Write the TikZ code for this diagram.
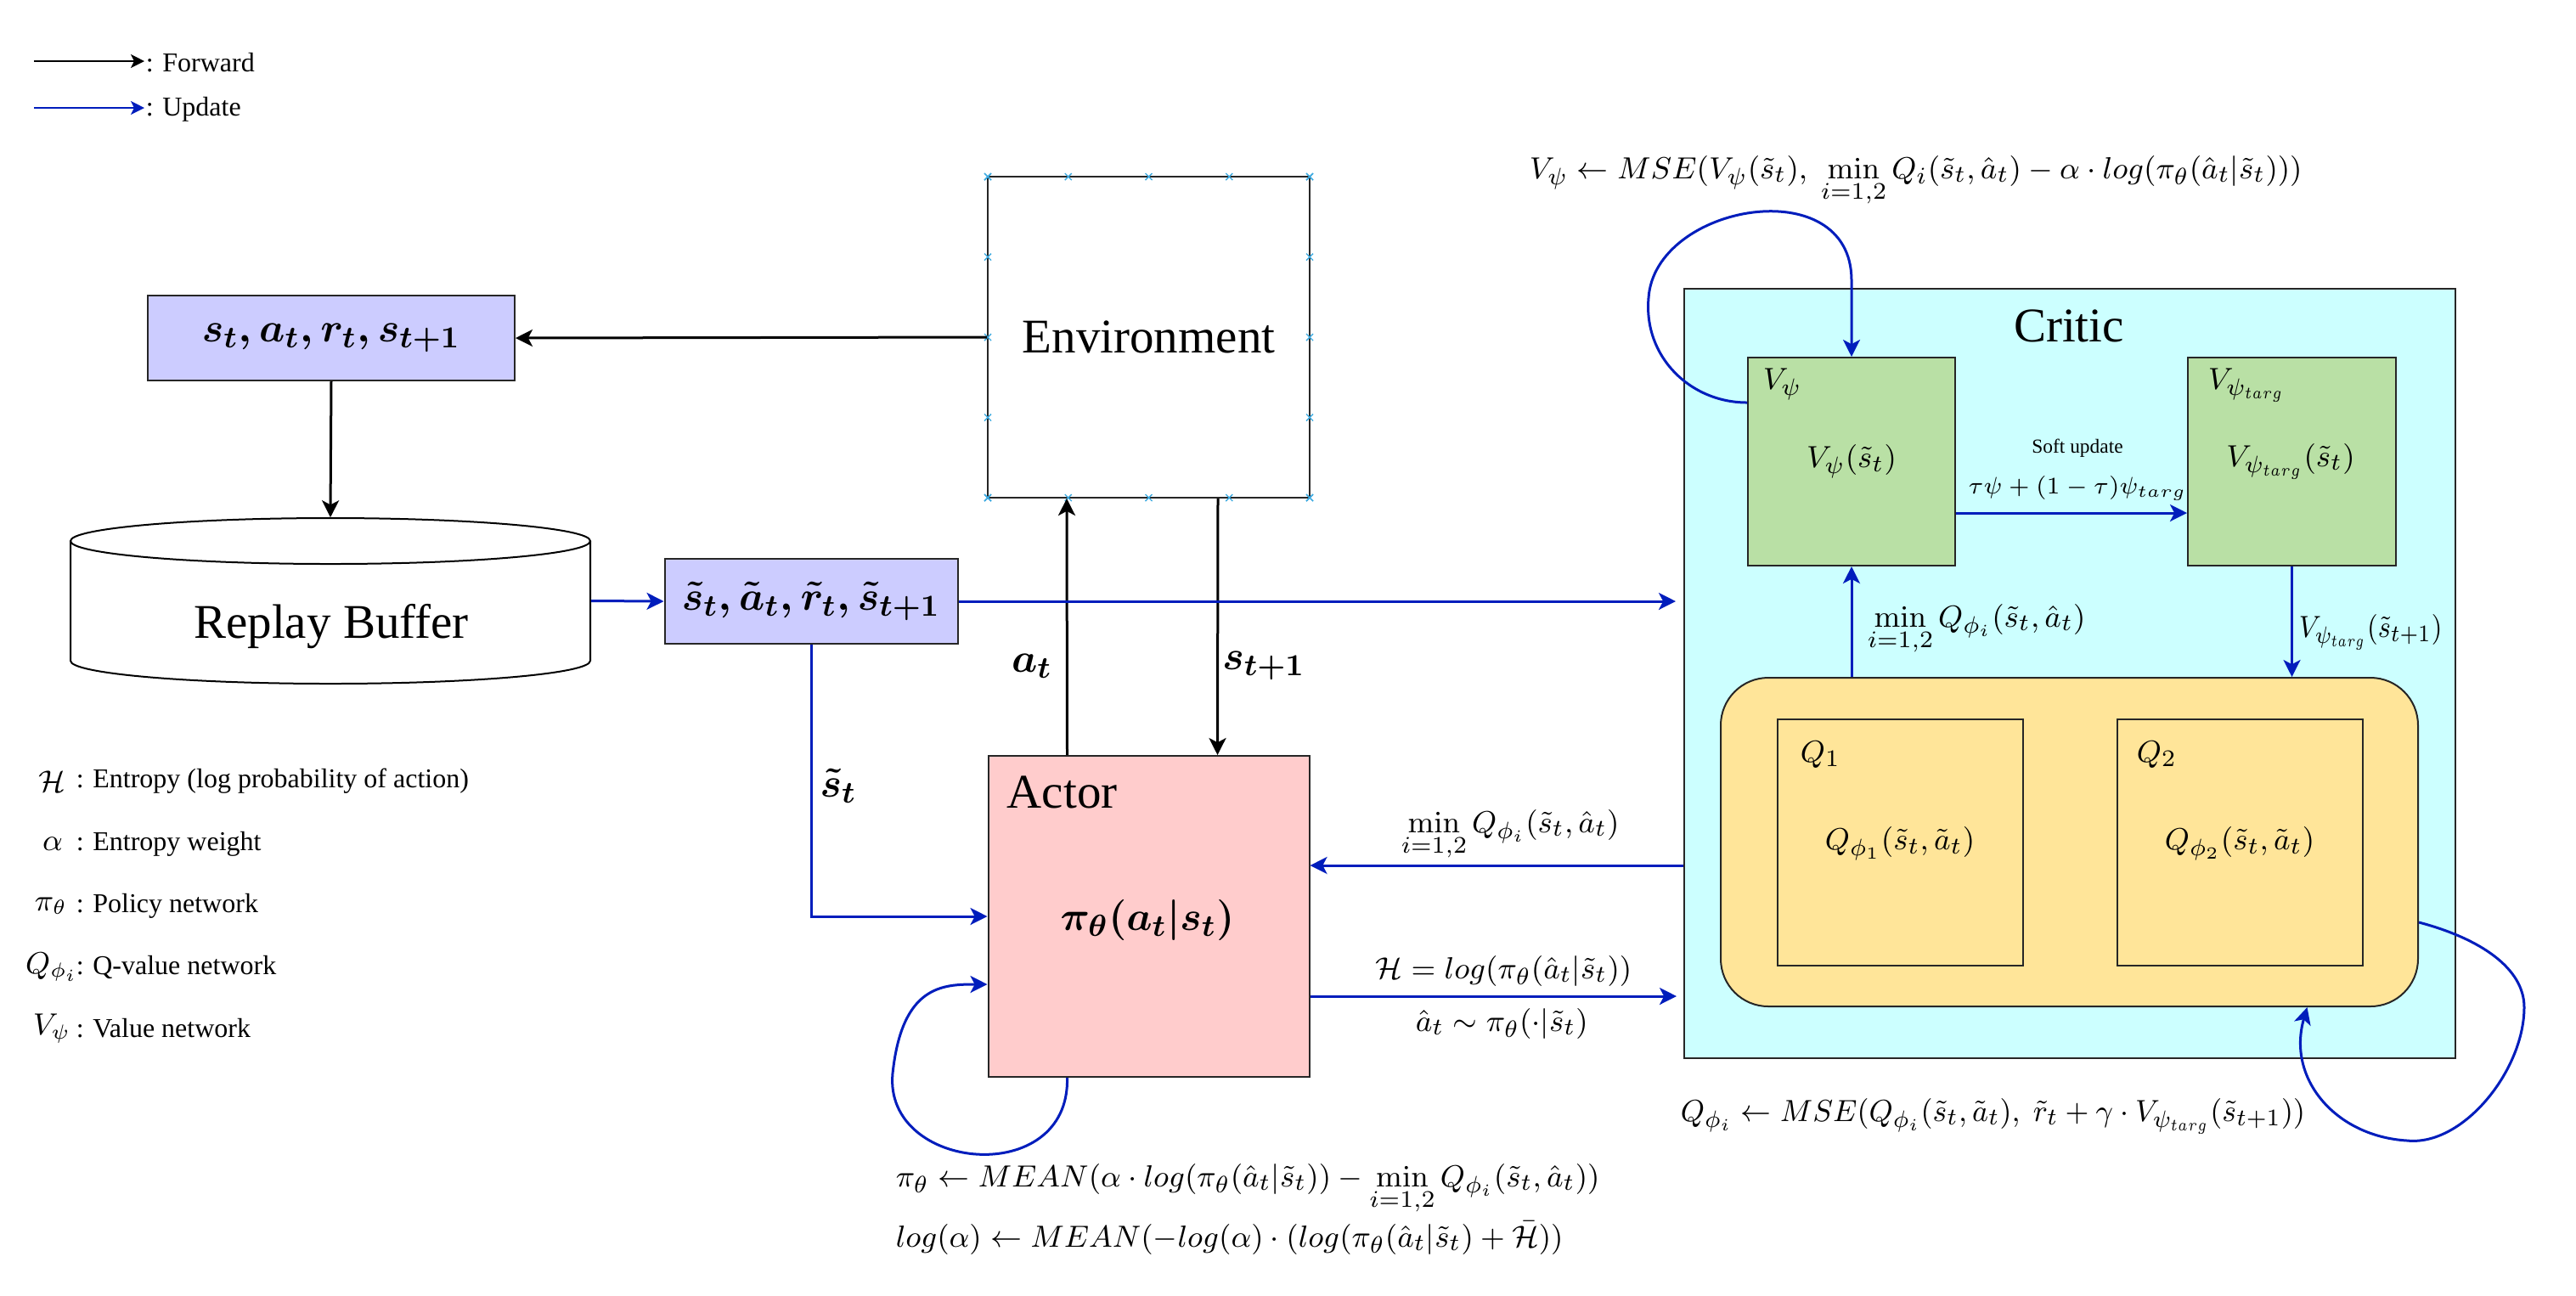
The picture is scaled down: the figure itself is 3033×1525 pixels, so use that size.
\documentclass[tikz,border=0pt]{standalone}
\usepackage[no-math]{fontspec}
\setmainfont{Liberation Serif}
\usepackage{amsmath}
\usepackage{graphicx}
\usetikzlibrary{arrows.meta,calc}
\definecolor{updblue}{RGB}{0,29,188}
\definecolor{lavf}{RGB}{204,204,255}
\definecolor{pinkf}{RGB}{255,204,204}
\definecolor{cyanf}{RGB}{204,255,255}
\definecolor{greenf}{RGB}{185,224,165}
\definecolor{yellowf}{RGB}{255,229,153}
\definecolor{markblue}{RGB}{60,170,225}
\newcommand\szBig{\fontsize{14.25}{17}\selectfont}
\newcommand\szMath{\fontsize{9.5}{11.5}\selectfont}
\newcommand\szLeg{\fontsize{8}{10}\selectfont}
\newcommand\szLegM{\fontsize{9}{11}\selectfont}
\newcommand\szBox{\fontsize{12.5}{15}\selectfont}
\newcommand\szSmall{\fontsize{5.85}{7}\selectfont}
\newcommand\szSoft{\fontsize{7}{8.5}\selectfont}
\newcommand\tg{\scalebox{0.8}[1]{$\scriptscriptstyle targ$}}
\begin{document}
\begin{tikzpicture}[x=0.25pt,y=-0.25pt,
  boxst/.style={draw=black!85, line width=0.5pt, inner sep=0pt},
  fwd/.style={-{Stealth[length=5pt,width=5pt,inset=1.3pt]}, line width=0.75pt, draw=black},
  upd/.style={fwd, draw=updblue, fill=none},
  legfwd/.style={-{Stealth[length=4pt,width=4pt,inset=1pt]}, line width=0.5pt},
  lbl/.style={inner sep=0pt}
]
\useasboundingbox (0,0) rectangle (3033,1525);
\fill[white] (0,0) rectangle (3033,1525);

% legend
\coordinate (lf1) at (40,72);
\coordinate (lf2) at (170,72);
\coordinate (lu1) at (40,127);
\coordinate (lu2) at (170,127);
\draw[legfwd, draw=black] (lf1) -- (lf2);
\draw[legfwd, draw=updblue] (lu1) -- (lu2);
\node[lbl, anchor=west] (legF) at (171,74) {\szLeg : Forward};
\node[lbl, anchor=west] (legU) at (171,129) {\szLeg : Update};

% left symbol list
\node[lbl] (symH) at (61,920) {\szLegM$\mathcal{H}$};
\node[lbl, anchor=west] (txtH) at (89,920) {\szLeg : Entropy (log probability of action)};
\node[lbl] (symA) at (62,994) {\szLegM$\alpha$};
\node[lbl, anchor=west] (txtA) at (89,994) {\szLeg : Entropy weight};
\node[lbl] (symP) at (60,1067) {\szLegM$\pi_\theta$};
\node[lbl, anchor=west] (txtP) at (89,1067) {\szLeg : Policy network};
\node[lbl] (symQ) at (61,1139) {\szLegM$Q_{\phi_i}$};
\node[lbl, anchor=west] (txtQ) at (89,1139) {\szLeg : Q-value network};
\node[lbl] (symV) at (61,1211) {\szLegM$V_\psi$};
\node[lbl, anchor=west] (txtV) at (89,1211) {\szLeg : Value network};

% critic container
\node[boxst, fill=cyanf, minimum width=227pt, minimum height=226.5pt] (critic) at (2437,793) {};
\node[lbl] (critict) at (2436,384) {\szBig Critic};
\node[boxst, fill=greenf, minimum width=61pt, minimum height=61.25pt] (vpsi) at (2180,543.5) {};
\node[boxst, fill=greenf, minimum width=61.25pt, minimum height=61.25pt] (vtarg) at (2698.5,543.5) {};
\node[boxst, fill=yellowf, rounded corners=14pt, minimum width=205.25pt, minimum height=96.75pt] (qgroup) at (2436.5,991.5) {};
\node[boxst, fill=yellowf, minimum width=72.25pt, minimum height=72.5pt] (q1) at (2237.5,992) {};
\node[boxst, fill=yellowf, minimum width=72.25pt, minimum height=72.5pt] (q2) at (2637.5,992) {};

\node[lbl, anchor=base west] (vpsil) at (2075,458) {\szMath$V_\psi$};
\node[lbl, anchor=base west] (vtargl) at (2599,458) {\szMath$V_{\psi_{\tg}}$};
\node[lbl] (vpsic) at (2180,543) {\szMath$V_\psi(\tilde{s}_t)$};
\node[lbl] (vtargc) at (2697,543) {\szMath$V_{\psi_{\tg}}(\tilde{s}_t)$};
\node[lbl, anchor=base west] (q1l) at (2119,897) {\szMath$Q_1$};
\node[lbl, anchor=base west] (q2l) at (2515,897) {\szMath$Q_2$};
\node[lbl] (q1c) at (2237,993) {\szMath$Q_{\phi_1}(\tilde{s}_t,\tilde{a}_t)$};
\node[lbl] (q2c) at (2637,993) {\szMath$Q_{\phi_2}(\tilde{s}_t,\tilde{a}_t)$};

% environment
\node[boxst, fill=white, minimum width=94.75pt, minimum height=94.5pt] (env) at (1352.5,397) {\szBig Environment};
\foreach \i in {0,1,2,3,4}{
  \pgfmathsetmacro{\xx}{1163+\i*94.75}
  \pgfmathsetmacro{\yy}{208+\i*94.5}
  \draw[markblue, line width=0.35pt] (\xx-4,204) -- (\xx+4,212) (\xx-4,212) -- (\xx+4,204);
  \draw[markblue, line width=0.35pt] (\xx-4,582) -- (\xx+4,590) (\xx-4,590) -- (\xx+4,582);
  \draw[markblue, line width=0.35pt] (1159,\yy-4) -- (1167,\yy+4) (1159,\yy+4) -- (1167,\yy-4);
  \draw[markblue, line width=0.35pt] (1538,\yy-4) -- (1546,\yy+4) (1538,\yy+4) -- (1546,\yy-4);
}

% sample boxes
\node[boxst, fill=lavf, minimum width=108pt, minimum height=25pt] (sbox) at (390,398) {\szBox{\boldmath$s_t, a_t, r_t, s_{t+1}$}};
\node[boxst, fill=lavf, minimum width=86.25pt, minimum height=25pt] (tbox) at (955,708) {\szBox{\boldmath$\tilde{s}_t, \tilde{a}_t, \tilde{r}_t, \tilde{s}_{t+1}$}};

% replay buffer (cylinder)
\node[minimum width=153pt, minimum height=48.75pt, inner sep=0pt] (buffer) at (389,707.5) {};
\fill[white] (83,637) -- (83,778) arc[start angle=180, end angle=0, x radius=306, y radius=27] -- (695,637) -- cycle;
\draw[line width=0.5pt] (83,637) -- (83,778) arc[start angle=180, end angle=0, x radius=306, y radius=27] -- (695,637);
\draw[line width=0.5pt, fill=white] (389,637) ellipse [x radius=306, y radius=27];
\node[lbl] (buffert) at (390,738) {\szBig Replay Buffer};

% actor
\node[boxst, fill=pinkf, minimum width=94.5pt, minimum height=94.5pt] (actor) at (1352.5,1079) {};
\node[lbl, anchor=base west] (actort) at (1185,951) {\szBig Actor};
\node[lbl] (actorc) at (1351,1083) {\szBox{\boldmath$\pi_\theta(a_t|s_t)$}};

% forward connectors
\draw[fwd] (env.west) -- (sbox.east);
\draw[fwd] (sbox.south) -- (buffer.north);
\draw[fwd] ($(actor.north west)+(94,0)$) -- ($(env.south west)+(94,0)$);
\draw[fwd] ($(env.south east)+(-109,0)$) -- ($(actor.north east)+(-109,0)$);
\node[lbl] (atl) at (1215,784) {\szBox{\boldmath$a_t$}};
\node[lbl] (st1l) at (1488,784) {\szBox{\boldmath$s_{t+1}$}};

% update connectors
\draw[upd] (buffer.east) -- (tbox.west);
\draw[upd] (tbox.east) -- ($(critic.west|-tbox.east)+(-9,0)$);
\draw[upd] (tbox.south) |- (actor.west);
\node[lbl] (stl) at (987,925) {\szBox{\boldmath$\tilde{s}_t$}};

\draw[upd] ($(critic.west)+(0,226)$) -- ($(actor.east)+(0,-60)$);
\node[lbl, anchor=base west] (minq1) at (1649,980) {\szMath$\min\limits_{i=1,2} Q_{\phi_i}(\tilde{s}_t,\hat{a}_t)$};
\draw[upd] ($(actor.east)+(0,94)$) -- ($(critic.west)+(-8,380)$);
\node[lbl, anchor=base west] (entl) at (1619,1152) {\szMath$\mathcal{H} = log(\pi_\theta(\hat{a}_t|\tilde{s}_t))$};
\node[lbl, anchor=base west] (sampl) at (1666,1214) {\szMath$\hat{a}_t \sim \pi_\theta(\cdot|\tilde{s}_t)$};

\draw[upd] ($(vpsi.east)+(0,60.5)$) -- ($(vtarg.west)+(0,60.5)$);
\node[lbl] (softl) at (2446,528) {\szSmall Soft update};
\node[lbl, anchor=base] (softf) at (2446,581) {\szSoft$\tau\psi + (1-\tau)\psi_{targ}$};

\draw[upd] (vpsi.south|-qgroup.north) -- (vpsi.south);
\node[lbl, anchor=base west] (minq2) at (2198,738) {\szMath$\min\limits_{i=1,2} Q_{\phi_i}(\tilde{s}_t,\hat{a}_t)$};
\draw[upd] (vtarg.south) -- (vtarg.south|-qgroup.north);
\node[lbl, anchor=base west] (vtl) at (2706,750) {\szMath\scalebox{0.88}[1]{$V_{\psi_{\tg}}(\tilde{s}_{t+1})$}};

% loops
\draw[upd] ($(actor.south west)+(94,0)$) .. controls (1260,1400) and (1040,1380) .. (1051,1264) .. controls (1062,1160) and (1110,1159) .. ($(actor.west)+(0,80)$);
\draw[upd] ($(vpsi.west)+(0,-69.5)$) .. controls (1990,474) and (1935,420) .. (1941,351) .. controls (1948,240) and (2180,200) .. (2180,330) -- (vpsi.north);
\draw[upd] ($(qgroup.east)+(0,94.5)$) .. controls (2920,1105) and (2972,1140) .. (2972,1186) .. controls (2972,1260) and (2900,1350) .. (2834,1343) .. controls (2750,1338) and (2692,1270) .. ($(qgroup.south)+(280,0)$);

% update formulas
\node[lbl, anchor=base west] (fV) at (1800,210) {\szMath$V_\psi \leftarrow MSE(V_\psi(\tilde{s}_t),\ \min\limits_{i=1,2} Q_i(\tilde{s}_t,\hat{a}_t) - \alpha\cdot log(\pi_\theta(\hat{a}_t|\tilde{s}_t)))$};
\node[lbl, anchor=base west] (fQ) at (1978,1320) {\szMath\scalebox{0.97}[1]{$Q_{\phi_i} \leftarrow MSE(Q_{\phi_i}(\tilde{s}_t,\tilde{a}_t),\ \tilde{r}_t + \gamma\cdot V_{\psi_{\tg}}(\tilde{s}_{t+1}))$}};
\node[lbl, anchor=base west] (fP) at (1054,1397) {\szMath$\pi_\theta \leftarrow MEAN(\alpha\cdot log(\pi_\theta(\hat{a}_t|\tilde{s}_t)) - \min\limits_{i=1,2} Q_{\phi_i}(\tilde{s}_t,\hat{a}_t))$};
\node[lbl, anchor=base west] (fA) at (1054,1468) {\szMath$log(\alpha) \leftarrow MEAN(-log(\alpha)\cdot(log(\pi_\theta(\hat{a}_t|\tilde{s}_t) + \bar{\mathcal{H}}))$};
\end{tikzpicture}
\end{document}
